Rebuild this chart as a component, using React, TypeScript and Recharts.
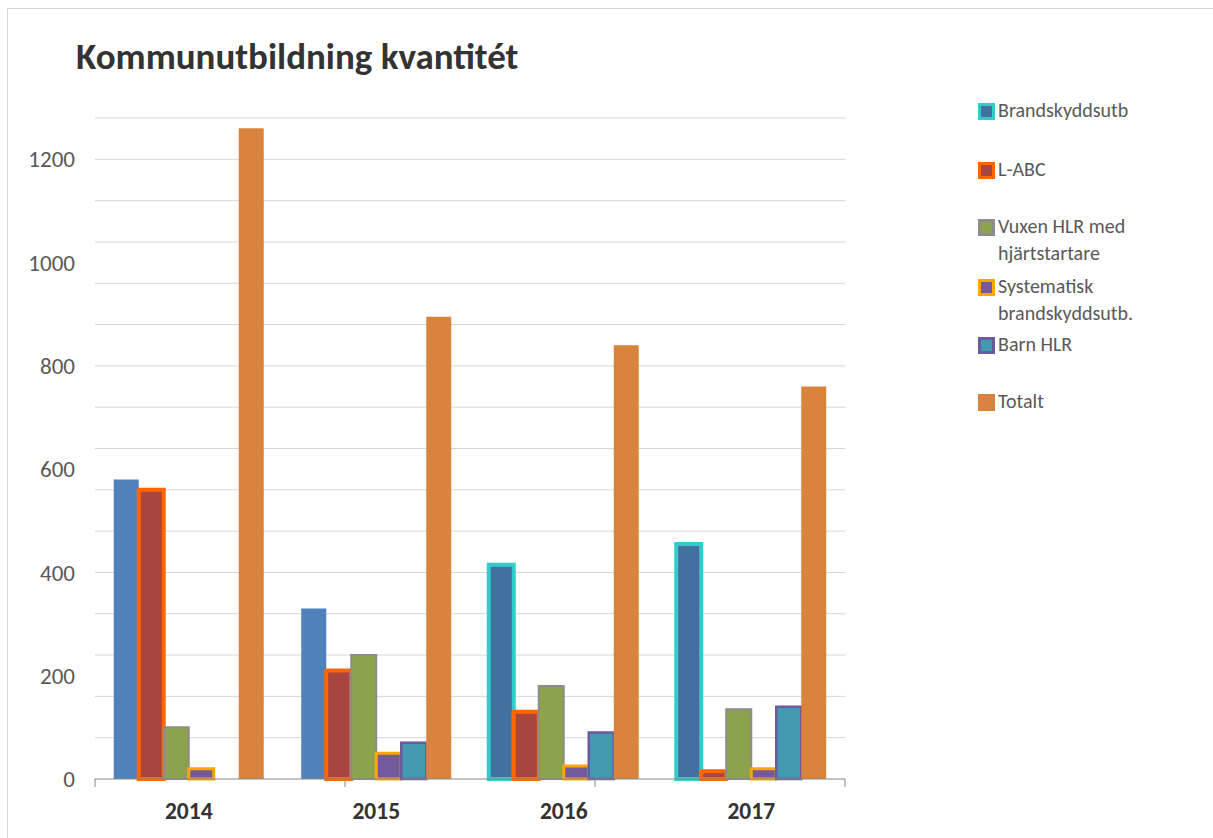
import { BarChart, Bar, XAxis, YAxis, CartesianGrid, Cell } from 'recharts';

const years = ['2014', '2015', '2016', '2017'];
const brandskyddsutb = [580, 330, 415, 455];
const labc = [560, 210, 130, 15];
const vuxenHlr = [100, 240, 180, 135];
const systematisk = [20, 50, 25, 20];
const barnHlr = [null, 70, 90, 140];
const totalt = [1260, 895, 840, 760];
const yTicks = [0, 200, 400, 600, 800, 1000, 1200];
const edgeTicks = [0, 1, 2, 3, 4];

// Brandskyddsutb changes look from 2016 on
const brandFill = ['#4F81BD', '#4F81BD', '#44709F', '#44709F'];
const brandStroke = ['none', 'none', '#33CCCC', '#33CCCC'];

// minor gridlines every 40
const gridValues = Array.from({ length: 32 }, (_, i) => (i + 1) * 40);

const FONT = 'Carlito, Lato, "Open Sans", sans-serif';

const data = years.map((year, i) => ({
  year,
  brandskyddsutb: brandskyddsutb[i],
  labc: labc[i],
  vuxenHlr: vuxenHlr[i],
  systematisk: systematisk[i],
  barnHlr: barnHlr[i],
  totalt: totalt[i],
}));

const legendItems = [
  { lines: ['Brandskyddsutb'], border: '#33CCCC', inner: '#44709F', top: 111 },
  { lines: ['L-ABC'], border: '#FF6600', inner: '#A8453F', top: 170 },
  { lines: ['Vuxen HLR med', 'hjärtstartare'], border: '#8C8C8C', inner: '#8BA34D', top: 227 },
  { lines: ['Systematisk', 'brandskyddsutb.'], border: '#FFA500', inner: '#735A9C', top: 287 },
  { lines: ['Barn HLR'], border: '#6B5B9E', inner: '#4299B0', top: 345 },
  { lines: ['Totalt'], border: '#D9843D', inner: '#D9843D', top: 402 },
];

function Legend() {
  return (
    <>
      {legendItems.map((item) => (
        <div
          key={item.lines[0]}
          style={{ position: 'absolute', left: 977, top: item.top - 14, fontFamily: FONT, fontSize: 20, color: '#595959', lineHeight: '27px' }}
        >
          <div
            style={{
              position: 'absolute',
              left: 1,
              top: 6,
              width: 11,
              height: 11,
              background: item.inner,
              border: `3px solid ${item.border}`,
            }}
          />
          <div style={{ marginLeft: 21, whiteSpace: 'nowrap' }}>
            {item.lines.map((l) => (
              <div key={l}>{l}</div>
            ))}
          </div>
        </div>
      ))}
    </>
  );
}

export default function App() {
  return (
    <div style={{ position: 'absolute', left: 0, top: 0, width: 1213, height: 838, background: '#fff', overflow: 'hidden' }}>
      <div
        style={{
          position: 'absolute',
          left: 7,
          top: 8,
          width: 1220,
          height: 840,
          borderTop: '1px solid #D4D4D4',
          borderLeft: '1px solid #D4D4D4',
        }}
      />
      <div
        style={{
          position: 'absolute',
          left: 76,
          top: 38,
          fontFamily: FONT,
          fontWeight: 700,
          fontSize: 37,
          color: '#333333',
          lineHeight: 1,
          whiteSpace: 'nowrap',
        }}
      >
        Kommunutbildning kvantitét
      </div>
      <div style={{ position: 'absolute', left: 0, top: 0 }}>
        <BarChart
          width={870}
          height={838}
          data={data}
          margin={{ top: 118, right: 25, left: 35, bottom: 28 }}
          barGap={0}
          barCategoryGap="10%"
          style={{ fontFamily: FONT }}
        >
          <CartesianGrid horizontal vertical={false} horizontalValues={gridValues} stroke="#D6D6D6" />
          {/* boundary tick marks under the categories */}
          <XAxis
            type="number"
            domain={[0, 4]}
            ticks={edgeTicks}
            allowDataOverflow
            height={1}
            tick={() => <g />}
            tickSize={8}
            axisLine={{ stroke: '#868686' }}
            tickLine={{ stroke: '#868686' }}
          />
          <XAxis
            xAxisId="cat"
            dataKey="year"
            height={30}
            axisLine={false}
            tickLine={false}
            tickSize={0}
            tickMargin={22}
            tick={{ fill: '#333333', fontSize: 23.5, fontWeight: 700 }}
          />
          <YAxis
            domain={[0, 1280]}
            ticks={yTicks}
            width={60}
            axisLine={false}
            tickLine={false}
            tickSize={0}
            tickMargin={20}
            tick={{ fill: '#595959', fontSize: 23 }}
          />
          <Bar xAxisId="cat" dataKey="brandskyddsutb" isAnimationActive={false} strokeWidth={4}>
            {data.map((_, i) => (
              <Cell key={`b-${i}`} fill={brandFill[i]} stroke={brandStroke[i]} />
            ))}
          </Bar>
          <Bar xAxisId="cat" dataKey="labc" fill="#A8453F" stroke="#FF6600" strokeWidth={4} isAnimationActive={false} />
          <Bar xAxisId="cat" dataKey="vuxenHlr" fill="#8BA34D" stroke="#8C8C8C" strokeWidth={2} isAnimationActive={false} />
          <Bar xAxisId="cat" dataKey="systematisk" fill="#735A9C" stroke="#FFA500" strokeWidth={3} isAnimationActive={false} />
          <Bar xAxisId="cat" dataKey="barnHlr" fill="#4299B0" stroke="#6B5B9E" strokeWidth={2.5} isAnimationActive={false} />
          <Bar xAxisId="cat" dataKey="totalt" fill="#D9843D" isAnimationActive={false} />
        </BarChart>
      </div>
      <Legend />
    </div>
  );
}
